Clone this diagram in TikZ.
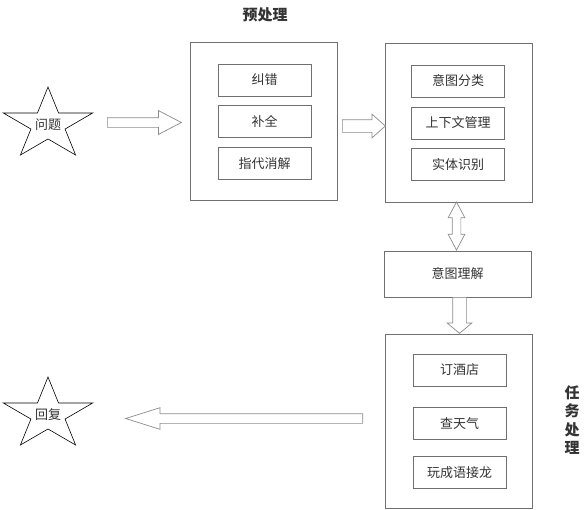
\documentclass[tikz,border=0pt]{standalone}
\usepackage{fontspec}
\usepackage{tikz}
\usetikzlibrary{shapes.geometric,shapes.arrows}
\setmainfont{Noto Sans CJK SC}
\definecolor{boxline}{RGB}{112,112,112}
\definecolor{arrline}{RGB}{140,140,140}
\definecolor{txt}{RGB}{51,51,51}

\begin{document}
\begin{tikzpicture}[x=1pt,y=-1pt,
  frame/.style={draw=boxline,line width=0.8pt,minimum width=147pt},
  item/.style={draw=boxline,line width=0.8pt,minimum width=93pt,minimum height=32pt,text=txt,font=\fontsize{13}{13}\selectfont},
  starnode/.style={star,star points=5,star point ratio=2.618,draw=black,line width=0.6pt,minimum size=75.2pt,transform shape,xscale=1.25},
  fat/.style={single arrow,draw=arrline,fill=white,line width=0.7pt,anchor=tail},
  fatboth/.style={double arrow,draw=arrline,fill=white,line width=0.7pt},
  title/.style={text=txt,font=\fontsize{15}{18.5}\selectfont\bfseries}]
\tikzstyle{every node}+=[inner sep=0pt]
\useasboundingbox (0,0) rectangle (585,509);
\node [starnode] (ask) at (48,124.6) {};
\node [text=txt,font=\fontsize{13}{13}\selectfont] at (ask) {问题};
\node [starnode] (reply) at (48,414.6) {};
\node [text=txt,font=\fontsize{13}{13}\selectfont] at (reply) {回复};
\node [title] (pretitle) at (265,15) {预处理};
\node [frame,minimum height=158pt] (pre) at (264,121) {};
\node [item] (fix) at (264.5,80) {纠错};
\node [item] (fill) at (264.5,121.5) {补全};
\node [item] (coref) at (264.5,163.5) {指代消解};
\node [frame,minimum height=159pt] (nlu) at (458.5,122.5) {};
\node [item] (cls) at (458,81) {意图分类};
\node [item] (ctx) at (458,123) {上下文管理};
\node [item] (ner) at (458,164.5) {实体识别};
\node [frame,minimum height=46pt,text=txt,font=\fontsize{13}{13}\selectfont] (intent) at (457.5,274) {意图理解};
\node [frame,minimum height=174pt] (task) at (459,421) {};
\node [item] (hotel) at (459.5,370) {订酒店};
\node [item] (weather) at (459.5,423.5) {查天气};
\node [item] (idiom) at (459.5,472.5) {玩成语接龙};
\node [title,align=center] (tasktitle) at (572,420) {任\\务\\处\\理};
\node [fat,inner sep=4.5pt,minimum height=74pt,single arrow head extend=7pt,single arrow tip angle=55] (a1) at (107,122.5) {};
\node [fat,inner sep=6pt,minimum height=43pt,single arrow head extend=5.5pt,single arrow tip angle=83] (a2) at (342,126) {};
\node [fatboth,inner sep=4pt,minimum height=48pt,double arrow head extend=4pt,double arrow tip angle=56,shape border rotate=90] (a3) at (456.5,226) {};
\node [fat,inner sep=6.5pt,minimum height=36pt,single arrow head extend=5.5pt,single arrow tip angle=100,shape border rotate=270] (a4) at (459.5,297) {};
\node [fat,inner sep=4.5pt,minimum height=237pt,single arrow head extend=6pt,single arrow tip angle=35,shape border rotate=180] (a5) at (363,418.5) {};
\end{tikzpicture}
\end{document}
